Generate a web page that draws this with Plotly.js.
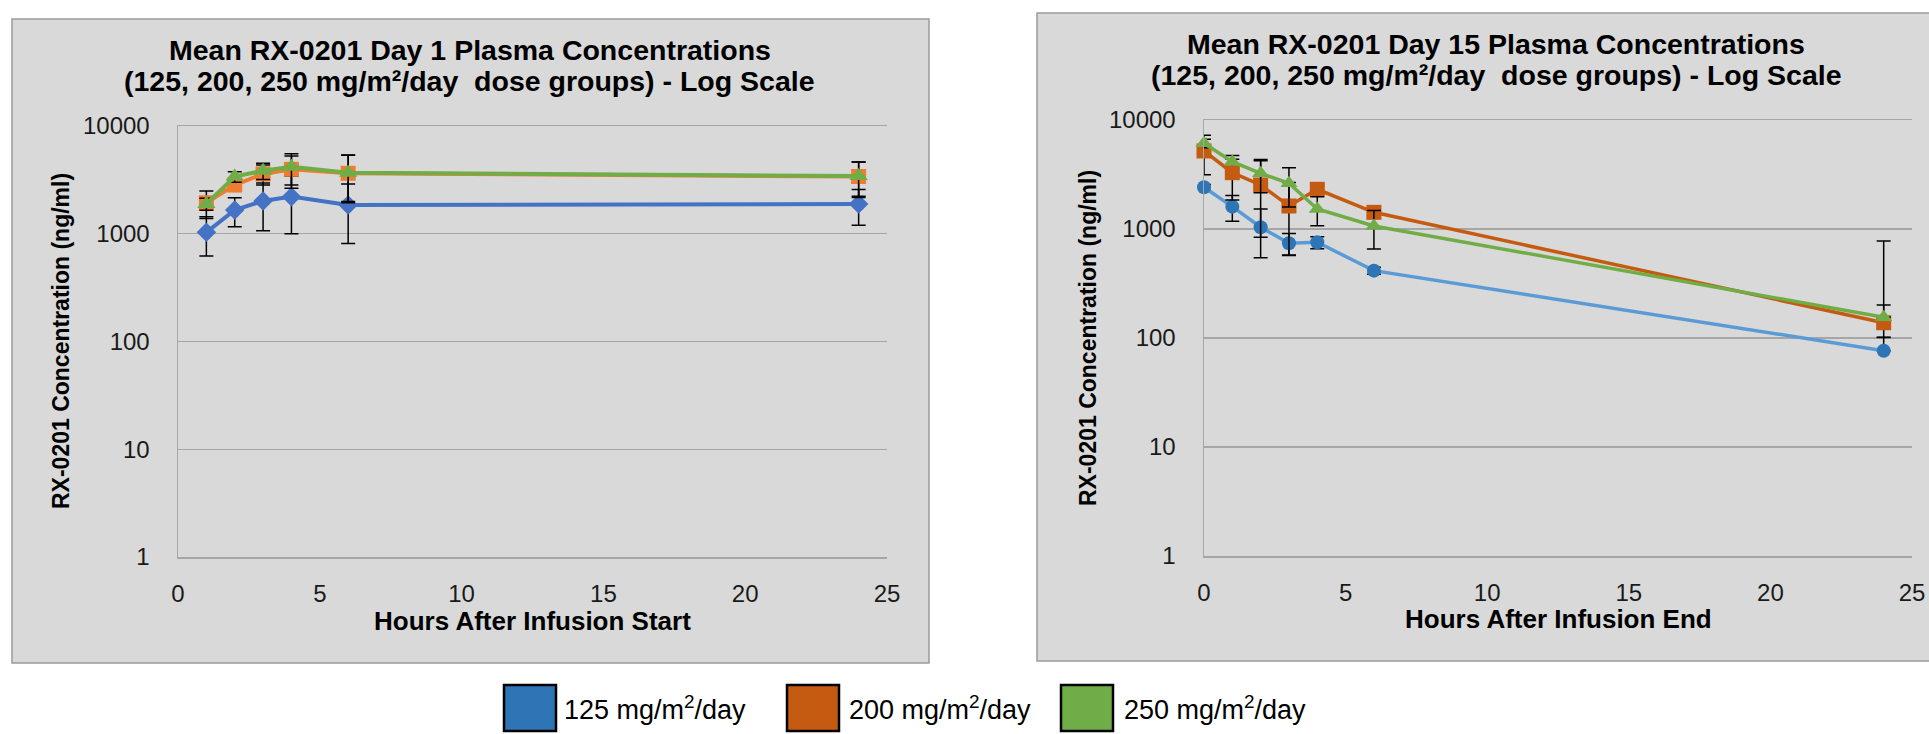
<!DOCTYPE html>
<html>
<head>
<meta charset="utf-8">
<script src="https://cdn.plot.ly/plotly-3.0.1.min.js"></script>
<style>
  html, body { margin: 0; padding: 0; background: #ffffff; }
  #chart { width: 1929px; height: 734px; }
</style>
</head>
<body>
<div id="chart"></div>
<script>
// ---------------- DATA ----------------
const groupLabels = ['125 mg/m<sup>2</sup>/day', '200 mg/m<sup>2</sup>/day', '250 mg/m<sup>2</sup>/day'];

// Day 1 (hours after infusion start)
const hoursDay1 = [1, 2, 3, 4, 6, 24];
const day1_125 = [1030, 1660, 2015, 2210, 1850, 1890];
const day1_125_sd = [410, 500, 950, 1210, 1040, 690];
const day1_200 = [1940, 2830, 3590, 3960, 3640, 3400];
const day1_200_sd = [555, 250, 760, 1310, 1700, 1230];
const day1_250 = [1890, 3390, 3850, 4190, 3690, 3430];
const day1_250_sd = [240, 380, 660, 1350, 1700, 1200];

// Day 15 (hours after infusion end)
const hoursDay15 = [0, 1, 2, 3, 4, 6, 24];
const day15_125 = [2415, 1603, 1037, 740, 755, 415, 76.5];
const day15_125_sdUp = [150, 425, 491, 170, 96, 30, 25];
const day15_125_sdDown = [150, 425, 491, 170, 96, 30, 0];
const day15_200 = [5200, 3286, 2535, 1626, 2313, 1422, 138];
const day15_200_sdUp = [2050, 1441, 1696, 1050, 200, 100, 63];
const day15_200_sdDown = [2050, 1441, 1696, 1050, 200, 100, 37];
const day15_250 = [6110, 4143, 3243, 2625, 1525, 1066, 155];
const day15_250_sdUp = [550, 214, 1090, 1030, 456, 410, 620];
const day15_250_sdDown = [550, 214, 1090, 1030, 456, 410, 0];

const yTickVals = [1, 10, 100, 1000, 10000];
const yTickText = ['1', '10', '100', '1000', '10000'];
const xTickVals = [0, 5, 10, 15, 20, 25];

const titleDay1 = ['Mean RX-0201 Day 1 Plasma Concentrations', '(125, 200, 250 mg/m\u00B2/day  dose groups) - Log Scale'];
const titleDay15 = ['Mean RX-0201 Day 15 Plasma Concentrations', '(125, 200, 250 mg/m\u00B2/day  dose groups) - Log Scale'];

// ---------------- LAYOUT HELPERS ----------------
const W = 1929, H = 734;
const px = x => x / W;
const py = y => (H - y) / H;
const FONT = "'Liberation Sans', Arial, Helvetica, sans-serif";

function errBar(up, down) {
  return { type: 'data', symmetric: down ? false : true, array: up, arrayminus: down || up,
           color: '#000000', thickness: 1.5, width: 7, visible: true };
}

function trace(x, y, up, down, xa, ya, lineColor, markerColor, symbol, size, lw) {
  return {
    type: 'scatter', mode: 'lines+markers', x: x, y: y,
    xaxis: xa, yaxis: ya, cliponaxis: false, showlegend: false,
    line: { color: lineColor, width: lw },
    marker: { color: markerColor, symbol: symbol, size: size, line: { width: 0 } },
    error_y: errBar(up, down)
  };
}

const traces = [
  trace(hoursDay1, day1_125, day1_125_sd, null, 'x', 'y', '#4472C4', '#4472C4', 'diamond', 15, 4),
  trace(hoursDay1, day1_200, day1_200_sd, null, 'x', 'y', '#ED7D31', '#ED7D31', 'square', 15, 4),
  trace(hoursDay1, day1_250, day1_250_sd, null, 'x', 'y', '#70AD47', '#70AD47', 'triangle-up', 16, 4),
  trace(hoursDay15, day15_125, day15_125_sdUp, day15_125_sdDown, 'x2', 'y2', '#5B9BD5', '#2E75B6', 'circle', 14, 3.5),
  trace(hoursDay15, day15_200, day15_200_sdUp, day15_200_sdDown, 'x2', 'y2', '#C55A11', '#C55A11', 'square', 15, 3.5),
  trace(hoursDay15, day15_250, day15_250_sdUp, day15_250_sdDown, 'x2', 'y2', '#70AD47', '#70AD47', 'triangle-up', 15, 3.5)
];

function xAxis(domain, anchor) {
  return {
    domain: domain, anchor: anchor, range: [0, 25], tickvals: xTickVals,
    showgrid: false, zeroline: false, showline: true, mirror: true,
    linecolor: '#a6a6a6', linewidth: 1.5, ticks: '', ticklabelstandoff: 15,
    tickfont: { family: FONT, size: 24, color: '#1a1a1a' }, fixedrange: true
  };
}
function yAxis(domain, anchor) {
  return {
    domain: domain, anchor: anchor, type: 'log', range: [0, 4],
    tickvals: yTickVals, ticktext: yTickText,
    showgrid: true, gridcolor: '#a6a6a6', gridwidth: 1.3,
    zeroline: false, showline: true, linecolor: '#a6a6a6', linewidth: 1.5,
    ticks: '', ticklabelstandoff: 22,
    tickfont: { family: FONT, size: 24, color: '#1a1a1a' }, fixedrange: true
  };
}

const legendColors = ['#2E75B6', '#C55A11', '#70AD47'];
const legendBoxX = [504, 787, 1061];
const legendTextX = [562, 847, 1122];

const shapes = [
  { type: 'rect', xref: 'paper', yref: 'paper', layer: 'below',
    x0: px(12), x1: px(929), y0: py(663), y1: py(19),
    fillcolor: '#d9d9d9', line: { color: '#9a9a9a', width: 1.5 } },
  { type: 'rect', xref: 'paper', yref: 'paper', layer: 'below',
    x0: px(1037), x1: px(1960), y0: py(661), y1: py(13),
    fillcolor: '#d9d9d9', line: { color: '#9a9a9a', width: 1.5 } }
];
const annotations = [];

legendColors.forEach((c, i) => {
  shapes.push({ type: 'rect', xref: 'paper', yref: 'paper', layer: 'above',
    x0: px(legendBoxX[i]), x1: px(legendBoxX[i] + 52), y0: py(731), y1: py(685),
    fillcolor: c, line: { color: '#000000', width: 2.5 } });
  annotations.push({ xref: 'paper', yref: 'paper', x: px(legendTextX[i]), y: py(708),
    xanchor: 'left', yanchor: 'middle', showarrow: false, text: groupLabels[i],
    font: { family: FONT, size: 27, color: '#000000' } });
});

function title(text, cx, cy) {
  annotations.push({ xref: 'paper', yref: 'paper', x: px(cx), y: py(cy),
    xanchor: 'center', yanchor: 'middle', showarrow: false, text: '<b>' + text + '</b>',
    font: { family: FONT, size: 28.5, color: '#000000' } });
}
title(titleDay1[0], 470, 50);
title(titleDay1[1], 469, 81);
title(titleDay15[0], 1496, 44);
title(titleDay15[1], 1496, 75);

function axisTitle(text, cx, cy, angle) {
  annotations.push({ xref: 'paper', yref: 'paper', x: px(cx), y: py(cy),
    xanchor: 'center', yanchor: 'middle', showarrow: false, text: '<b>' + text + '</b>',
    textangle: angle, font: { family: FONT, size: angle ? 23 : 26, color: '#000000' } });
}
axisTitle('Hours After Infusion Start', 532, 621, 0);
axisTitle('Hours After Infusion End', 1558, 619, 0);
axisTitle('RX-0201 Concentration (ng/ml)', 61, 341, -90);
axisTitle('RX-0201 Concentration (ng/ml)', 1088, 338, -90);

const layout = {
  width: W, height: H,
  margin: { l: 0, r: 0, t: 0, b: 0 },
  paper_bgcolor: '#ffffff', plot_bgcolor: '#ffffff',
  showlegend: false,
  font: { family: FONT },
  xaxis: xAxis([px(178), px(887)], 'y'),
  yaxis: yAxis([py(557), py(126)], 'x'),
  xaxis2: xAxis([px(1204), px(1912)], 'y2'),
  yaxis2: yAxis([py(556), py(120)], 'x2'),
  shapes: shapes,
  annotations: annotations
};

Plotly.newPlot('chart', traces, layout, { displayModeBar: false, staticPlot: true });
</script>
</body>
</html>
